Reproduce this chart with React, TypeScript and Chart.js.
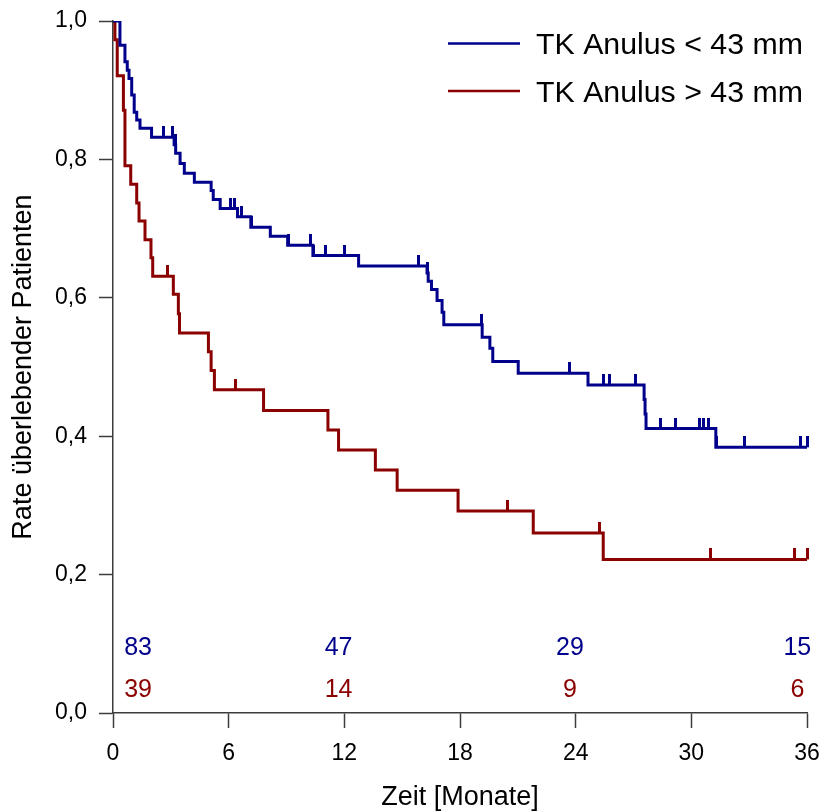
import React, { useEffect, useRef } from 'react';
import { Chart, registerables } from 'chart.js';

Chart.register(...registerables);

// ---- data ----
const seriesNames = ['TK Anulus < 43 mm', 'TK Anulus > 43 mm'];

const blueTimes = [0, 0.36, 0.62, 0.74, 0.83, 0.97, 1.1, 1.23, 1.4, 2.0, 3.17, 3.25, 3.48, 3.7, 4.22, 5.09, 5.2, 5.56, 6.46, 7.15, 8.16, 9.06, 10.37, 12.74, 16.29, 16.35, 16.52, 16.81, 17.07, 17.16, 19.15, 19.55, 19.7, 21.02, 24.64, 27.55, 27.6, 27.65, 31.27];
const blueSurv = [1.0, 0.965, 0.941, 0.929, 0.917, 0.893, 0.868, 0.857, 0.845, 0.832, 0.821, 0.809, 0.794, 0.78, 0.767, 0.755, 0.742, 0.729, 0.717, 0.702, 0.689, 0.676, 0.661, 0.646, 0.636, 0.624, 0.612, 0.596, 0.579, 0.561, 0.543, 0.527, 0.508, 0.491, 0.474, 0.453, 0.432, 0.411, 0.384];
const blueCensored = [2.6, 3.1, 3.22, 6.08, 6.29, 6.68, 7.17, 9.08, 10.26, 10.4, 11.0, 12.0, 15.86, 16.3, 19.12, 23.66, 25.42, 25.74, 27.12, 28.38, 29.2, 30.4, 30.63, 30.87, 31.3, 32.74, 35.65, 36.0];

const redTimes = [0, 0.1, 0.22, 0.54, 0.62, 0.92, 1.23, 1.35, 1.66, 1.97, 2.06, 3.13, 3.39, 3.45, 4.95, 5.09, 5.26, 7.81, 11.15, 11.7, 13.61, 14.74, 17.9, 21.8, 25.43];
const redSurv = [1.0, 0.973, 0.921, 0.871, 0.791, 0.764, 0.737, 0.711, 0.684, 0.658, 0.631, 0.605, 0.577, 0.549, 0.522, 0.495, 0.467, 0.437, 0.409, 0.38, 0.351, 0.322, 0.292, 0.26, 0.222];
const redCensored = [2.83, 6.34, 20.45, 25.26, 31.0, 35.34, 36.0];

const xTickValues = [0, 6, 12, 18, 24, 30, 36];
const yTickValues = [0, 0.2, 0.4, 0.6, 0.8, 1.0];

const riskTimes = [1.3, 11.7, 23.7, 35.5];
const blueAtRisk = [83, 47, 29, 15];
const redAtRisk = [39, 14, 9, 6];

const X_MAX = 36;

// ---- styles ----
const BLUE = '#00008C';
const RED = '#8B0000';
const AXIS = '#3c3c3c';
const FONT = "'Liberation Sans', Arial, sans-serif";

function survivalAt(times: number[], surv: number[], t: number) {
  let v = surv[0];
  for (let i = 0; i < times.length; i++) {
    if (times[i] <= t) v = surv[i];
  }
  return v;
}

function stepPoints(times: number[], surv: number[]) {
  const pts = times.map((t, i) => ({ x: t, y: surv[i] }));
  pts.push({ x: X_MAX, y: surv[surv.length - 1] });
  return pts;
}

function censorPoints(times: number[], surv: number[], cens: number[]) {
  return cens.map((t) => ({ x: t, y: survivalAt(times, surv, t) }));
}

function makeTick(color: string) {
  const c = document.createElement('canvas');
  c.width = 3;
  c.height = 22;
  const g = c.getContext('2d')!;
  g.fillStyle = color;
  g.fillRect(0, 0, 3, 11);
  return c;
}

const overlayPlugin = {
  id: 'kmOverlay',
  afterDraw(chart: any) {
    const ctx = chart.ctx;
    const xs = chart.scales.x;
    ctx.save();
    // legend
    const legendColors = [BLUE, RED];
    seriesNames.forEach((name, i) => {
      const yLine = 43.5 + i * 47.5;
      ctx.strokeStyle = legendColors[i];
      ctx.lineWidth = 2.5;
      ctx.beginPath();
      ctx.moveTo(448, yLine);
      ctx.lineTo(520, yLine);
      ctx.stroke();
      ctx.fillStyle = '#000';
      ctx.font = `30.3px ${FONT}`;
      ctx.textAlign = 'left';
      ctx.textBaseline = 'alphabetic';
      ctx.fillText(name, 536, 54 + i * 47.5);
    });
    // numbers at risk
    ctx.font = `25px ${FONT}`;
    ctx.textAlign = 'center';
    ctx.textBaseline = 'alphabetic';
    riskTimes.forEach((t, i) => {
      const x = xs.getPixelForValue(t);
      ctx.fillStyle = BLUE;
      ctx.fillText(String(blueAtRisk[i]), x, 655);
      ctx.fillStyle = RED;
      ctx.fillText(String(redAtRisk[i]), x, 697);
    });
    ctx.restore();
  },
};

export default function App() {
  const ref = useRef<HTMLCanvasElement>(null);

  useEffect(() => {
    if (!ref.current) return;
    const blueTick = makeTick(BLUE);
    const redTick = makeTick(RED);
    const chart = new Chart(ref.current, {
      type: 'scatter',
      data: {
        datasets: [
          {
            label: seriesNames[0],
            data: stepPoints(blueTimes, blueSurv),
            showLine: true,
            stepped: true,
            borderColor: BLUE,
            borderWidth: 3,
            pointRadius: 0,
            fill: false,
          } as any,
          {
            label: seriesNames[1],
            data: stepPoints(redTimes, redSurv),
            showLine: true,
            stepped: true,
            borderColor: RED,
            borderWidth: 3,
            pointRadius: 0,
            fill: false,
          } as any,
          {
            label: 'censored1',
            data: censorPoints(blueTimes, blueSurv, blueCensored),
            showLine: false,
            pointStyle: blueTick,
            pointRadius: 3,
            clip: false,
          } as any,
          {
            label: 'censored2',
            data: censorPoints(redTimes, redSurv, redCensored),
            showLine: false,
            pointStyle: redTick,
            pointRadius: 3,
            clip: false,
          } as any,
        ],
      },
      options: {
        responsive: false,
        animation: false,
        devicePixelRatio: 1,
        events: [],
        layout: { padding: { left: 0, right: 14, top: 21, bottom: 0 } },
        plugins: {
          legend: { display: false },
          tooltip: { enabled: false },
        },
        scales: {
          x: {
            type: 'linear',
            min: 0,
            max: X_MAX,
            afterBuildTicks: (s: any) => {
              s.ticks = xTickValues.map((v) => ({ value: v }));
            },
            afterFit: (s: any) => {
              s.height = 98;
              s.paddingLeft = 0;
              s.paddingRight = 0;
            },
            ticks: {
              font: { family: FONT, size: 23 },
              color: '#000',
              padding: 12,
              maxRotation: 0,
              autoSkip: false,
              callback: (v: any) => String(v),
            },
            grid: {
              drawOnChartArea: false,
              drawTicks: true,
              tickLength: 15,
              tickColor: AXIS,
              tickWidth: 1.5,
              color: AXIS,
            },
            border: { display: true, color: AXIS, width: 1.5 },
            title: {
              display: true,
              text: 'Zeit [Monate]',
              font: { family: FONT, size: 27, lineHeight: 1.0 },
              color: '#000',
              padding: { top: 0, bottom: 0 },
            },
          },
          y: {
            type: 'linear',
            min: 0,
            max: 1,
            afterBuildTicks: (s: any) => {
              s.ticks = yTickValues.map((v) => ({ value: v }));
            },
            afterFit: (s: any) => {
              s.width = 113;
              s.paddingTop = 0;
              s.paddingBottom = 0;
            },
            ticks: {
              font: { family: FONT, size: 23 },
              color: '#000',
              padding: 12,
              autoSkip: false,
              callback: (v: any) => Number(v).toFixed(1).replace('.', ','),
            },
            grid: {
              drawOnChartArea: false,
              drawTicks: true,
              tickLength: 14,
              tickColor: AXIS,
              tickWidth: 1.5,
              color: AXIS,
            },
            border: { display: true, color: AXIS, width: 1.5 },
            title: {
              display: true,
              text: 'Rate überlebender Patienten',
              font: { family: FONT, size: 27, lineHeight: 1.2 },
              color: '#000',
              padding: { top: 7, bottom: 0 },
            },
          },
        },
      },
      plugins: [overlayPlugin],
    } as any);
    return () => chart.destroy();
  }, []);

  return (
    <div style={{ position: 'absolute', left: 0, top: 0, width: 821, height: 811, background: '#fff' }}>
      <canvas ref={ref} width={821} height={811} style={{ display: 'block', width: 821, height: 811 }} />
    </div>
  );
}
